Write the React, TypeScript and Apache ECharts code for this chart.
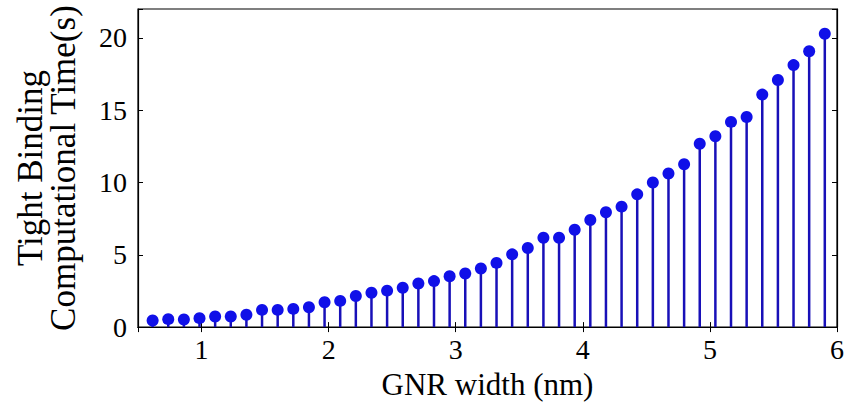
import React, { useEffect, useRef } from "react";
import * as echarts from "echarts";

// GNR width (nm)
const widths = [
  0.615, 0.738, 0.861, 0.984, 1.107, 1.230, 1.353, 1.476, 1.599, 1.722, 1.845,
  1.968, 2.091, 2.214, 2.337, 2.460, 2.583, 2.706, 2.829, 2.952, 3.075, 3.198,
  3.321, 3.444, 3.567, 3.690, 3.813, 3.936, 4.059, 4.182, 4.305, 4.428, 4.551,
  4.674, 4.797, 4.920, 5.043, 5.166, 5.289, 5.412, 5.535, 5.658, 5.781, 5.904,
];
// Tight binding computational time (s)
const times = [
  0.46, 0.55, 0.53, 0.62, 0.73, 0.73, 0.85, 1.19, 1.19, 1.26, 1.37,
  1.72, 1.81, 2.15, 2.38, 2.52, 2.72, 3.02, 3.18, 3.52, 3.71, 4.05,
  4.44, 5.03, 5.47, 6.18, 6.18, 6.73, 7.41, 7.94, 8.33, 9.18, 10.0,
  10.62, 11.26, 12.68, 13.2, 14.19, 14.53, 16.08, 17.09, 18.12, 19.08, 20.29,
];
const xTicks = [1, 2, 3, 4, 5, 6];
const yTicks = [0, 5, 10, 15, 20];
const xName = "GNR width (nm)";
const yName = "Tight Binding\nComputational Time(s)";

const FONT = "Liberation Serif";

export default function App() {
  const ref = useRef<HTMLDivElement>(null);
  useEffect(() => {
    if (!ref.current) return;
    const chart = echarts.init(ref.current, undefined, { renderer: "svg" });
    const data = widths.map((w, i) => [w, times[i]]);
    const tickCommon = {
      axisTick: { show: true, inside: true, length: 5, lineStyle: { color: "#000", width: 1 } },
      splitLine: { show: false },
      axisLine: { show: true, lineStyle: { color: "#000", width: 1.2 } },
    };
    chart.setOption({
      animation: false,
      backgroundColor: "#fff",
      grid: {
        left: 138,
        right: 12,
        top: 9,
        bottom: 76,
        show: true,
        borderColor: "#000",
        borderWidth: 1.2,
      },
      xAxis: [
        {
          type: "value",
          min: 0.5,
          max: 6,
          splitNumber: 5,
          ...tickCommon,
          axisLabel: {
            color: "#000",
            fontFamily: FONT,
            fontSize: 28,
            margin: 8,
            formatter: (v: number) => (xTicks.includes(v) ? String(v) : ""),
          },
          name: xName,
          nameLocation: "middle",
          nameGap: 40,
          nameTextStyle: { color: "#000", fontFamily: FONT, fontSize: 31, lineHeight: 32 },
        },
        {
          type: "value",
          position: "top",
          min: 0.5,
          max: 6,
          splitNumber: 5,
          ...tickCommon,
          axisLabel: { show: false },
        },
      ],
      yAxis: [
        {
          type: "value",
          min: 0,
          max: 22,
          interval: 5,
          ...tickCommon,
          axisLabel: {
            color: "#000",
            fontFamily: FONT,
            fontSize: 28,
            margin: 11,
            formatter: (v: number) => (yTicks.includes(v) ? String(v) : ""),
          },
          name: yName,
          nameLocation: "middle",
          nameRotate: 90,
          nameGap: 58,
          nameTextStyle: { color: "#000", fontFamily: FONT, fontSize: 35, lineHeight: 33 },
        },
        {
          type: "value",
          position: "right",
          min: 0,
          max: 22,
          interval: 5,
          ...tickCommon,
          axisLabel: { show: false },
        },
      ],
      series: [
        {
          type: "bar",
          data,
          barWidth: 2.5,
          itemStyle: { color: "#1810b8" },
          silent: true,
        },
        {
          type: "scatter",
          data,
          symbol: "circle",
          symbolSize: 12,
          itemStyle: { color: "#1010e8", opacity: 1 },
          silent: true,
        },
      ],
    });
    return () => chart.dispose();
  }, []);
  return (
    <div
      ref={ref}
      style={{ position: "fixed", left: 0, top: 0, width: 849, height: 405 }}
    />
  );
}
